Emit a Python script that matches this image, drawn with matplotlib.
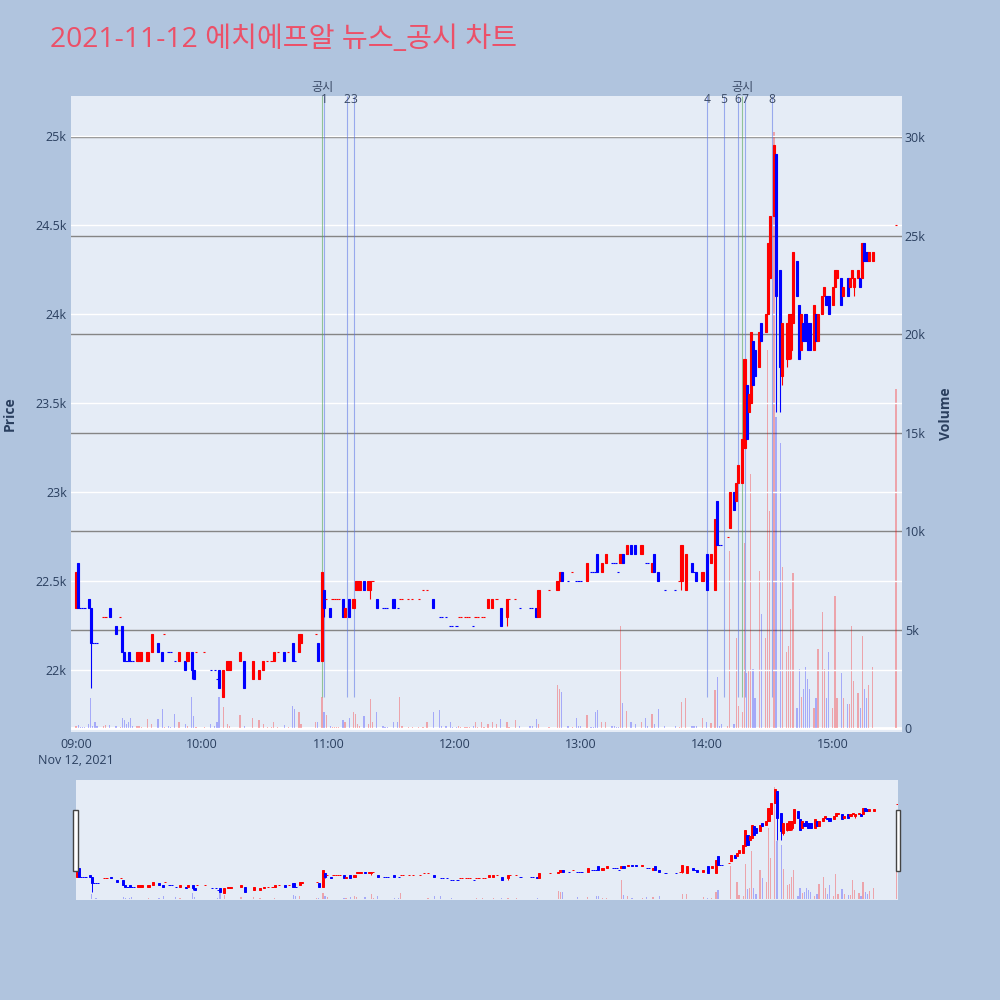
import matplotlib
matplotlib.use('Agg')
import matplotlib.pyplot as plt
from matplotlib.patches import Rectangle
from matplotlib.transforms import blended_transform_factory
import numpy as np

plt.rcParams['font.family'] = ['Open Sans', 'Noto Sans CJK KR', 'DejaVu Sans']

title = '2021-11-12 에치에프알 뉴스_공시 차트'

times = ['09:00','09:01','09:02','09:03','09:04','09:06','09:07','09:08','09:09','09:10',
         '09:13','09:14','09:16','09:19','09:21','09:22','09:23','09:24','09:25','09:26',
         '09:27','09:29','09:30','09:31','09:34','09:36','09:39','09:41','09:42','09:44',
         '09:45','09:47','09:49','09:52','09:53','09:55','09:56','09:57','10:01','10:04',
         '10:06','10:07','10:08','10:10','10:12','10:13','10:18','10:20','10:24','10:27',
         '10:29','10:31','10:33','10:34','10:36','10:39','10:41','10:43','10:44','10:46',
         '10:47','10:54','10:55','10:57','10:58','10:59','11:01','11:02','11:03','11:04',
         '11:05','11:07','11:08','11:10','11:12','11:13','11:14','11:15','11:17','11:19',
         '11:20','11:21','11:23','11:26','11:27','11:28','11:31','11:33','11:34','11:35',
         '11:38','11:40','11:43','11:45','11:47','11:50','11:53','11:54','11:56','11:58',
         '11:59','12:01','12:02','12:03','12:05','12:06','12:07','12:09','12:10','12:11',
         '12:13','12:14','12:16','12:18','12:20','12:22','12:25','12:26','12:29','12:31',
         '12:36','12:37','12:39','12:40','12:45','12:49','12:50','12:51','12:54','12:56',
         '12:58','12:59','13:00','13:03','13:05','13:06','13:07','13:08','13:10','13:12',
         '13:15','13:16','13:17','13:18','13:19','13:20','13:22','13:24','13:26','13:29',
         '13:31','13:32','13:34','13:35','13:37','13:40','13:45','13:47','13:48','13:50',
         '13:53','13:54','13:55','13:58','14:00','14:02','14:04','14:05','14:06','14:07',
         '14:10','14:11','14:13','14:14','14:15','14:17','14:18','14:19','14:20','14:21',
         '14:22','14:23','14:25','14:26','14:28','14:29','14:30','14:32','14:33','14:35',
         '14:36','14:38','14:39','14:40','14:41','14:43','14:44','14:45','14:46','14:47',
         '14:48','14:49','14:51','14:52','14:53','14:55','14:56','14:57','14:58','15:00',
         '15:01','15:02','15:04','15:05','15:07','15:08','15:09','15:10','15:12','15:13',
         '15:14','15:15','15:16','15:17','15:19','15:30']

opens = [22350,22600,22350,22350,22350,22400,22350,22150,22150,22150,
         22300,22300,22350,22250,22300,22250,22100,22050,22100,22050,
         22050,22050,22050,22050,22050,22100,22150,22100,22200,22100,
         22100,22050,22050,22050,22050,22100,22000,22100,22100,22000,
         22000,21950,22000,21850,22000,22000,22050,22050,21950,21950,
         22000,22050,22050,22050,22100,22100,22100,22150,22050,22100,
         22150,22200,22150,22050,22450,22400,22350,22400,22400,22400,
         22400,22400,22300,22400,22350,22450,22450,22450,22500,22450,
         22450,22500,22400,22350,22350,22350,22400,22350,22400,22400,
         22400,22400,22400,22450,22450,22400,22300,22300,22300,22250,
         22250,22250,22300,22300,22300,22300,22300,22250,22300,22300,
         22300,22300,22350,22350,22400,22350,22300,22400,22400,22350,
         22350,22350,22350,22300,22450,22450,22500,22550,22500,22550,
         22500,22500,22500,22500,22550,22550,22550,22650,22550,22600,
         22600,22600,22600,22550,22600,22650,22650,22700,22700,22650,
         22600,22600,22550,22650,22550,22450,22450,22500,22500,22450,
         22600,22550,22550,22500,22650,22600,22450,22950,22700,22700,
         22750,22800,23000,22950,23050,23050,23250,23600,23450,23500,
         23850,23800,23700,23950,23900,24000,24200,24550,24900,24250,
         23650,23750,23750,23800,23950,24300,24050,23800,23950,24000,
         23950,23950,23800,24000,23850,24000,24100,24100,24100,24050,
         24150,24200,24200,24100,24200,24150,24200,24150,24200,24200,
         24200,24400,24350,24300,24300,24500]

highs = [22550,22600,22350,22350,22350,22400,22350,22150,22150,22150,
         22300,22300,22350,22250,22300,22250,22100,22050,22100,22050,
         22050,22100,22100,22100,22100,22200,22150,22100,22200,22100,
         22100,22050,22100,22050,22100,22100,22000,22100,22100,22000,
         22000,21950,22000,22000,22050,22050,22100,22050,22050,22000,
         22050,22050,22050,22100,22100,22100,22100,22150,22050,22200,
         22200,22200,22150,22550,22450,22400,22350,22400,22400,22400,
         22400,22400,22350,22400,22400,22500,22500,22500,22500,22500,
         22500,22500,22400,22350,22350,22350,22400,22350,22400,22400,
         22400,22400,22400,22450,22450,22400,22300,22300,22300,22250,
         22250,22250,22300,22300,22300,22300,22300,22250,22300,22300,
         22300,22300,22400,22400,22400,22350,22400,22400,22400,22350,
         22350,22350,22350,22450,22450,22500,22550,22550,22500,22550,
         22500,22500,22500,22600,22550,22550,22550,22650,22600,22650,
         22600,22600,22600,22550,22650,22650,22700,22700,22700,22700,
         22600,22600,22600,22650,22550,22450,22450,22500,22700,22650,
         22600,22550,22550,22550,22650,22650,22850,22950,22700,22700,
         22750,23000,23000,23050,23150,23300,23750,23600,23550,23900,
         23850,23800,23900,23950,24000,24400,24550,24950,24900,24250,
         23950,23950,24000,24000,24350,24300,24050,24000,23950,24000,
         23950,23950,24050,24000,24000,24100,24150,24100,24100,24150,
         24250,24250,24200,24150,24200,24200,24250,24200,24250,24200,
         24400,24400,24350,24350,24350,24500]

lows = [22350,22350,22350,22350,22350,22350,21900,22150,22150,22150,
        22300,22300,22300,22200,22300,22100,22050,22050,22050,22050,
        22050,22050,22050,22050,22050,22100,22100,22050,22200,22100,
        22100,22050,22050,22000,22050,21950,21950,22100,22100,22000,
        22000,21950,21900,21850,22000,22000,22050,21900,21950,21950,
        22000,22050,22050,22050,22100,22050,22100,22050,22050,22100,
        22150,22200,22050,22050,22300,22400,22300,22400,22400,22400,
        22400,22300,22300,22300,22350,22450,22450,22450,22450,22450,
        22400,22500,22350,22350,22350,22350,22350,22350,22400,22400,
        22400,22400,22400,22450,22450,22350,22300,22300,22300,22250,
        22250,22250,22300,22300,22300,22300,22300,22250,22300,22300,
        22300,22300,22350,22350,22400,22250,22250,22400,22400,22350,
        22350,22350,22300,22300,22450,22450,22500,22500,22500,22550,
        22500,22500,22500,22500,22550,22550,22550,22550,22550,22600,
        22600,22600,22600,22550,22600,22600,22650,22650,22650,22650,
        22600,22600,22550,22550,22500,22450,22450,22500,22450,22450,
        22550,22550,22500,22500,22450,22600,22450,22700,22700,22700,
        22750,22800,22900,22950,23050,23050,23250,23300,23450,23500,
        23600,23650,23700,23850,23900,24000,24200,24550,23450,23450,
        23600,23700,23750,23750,23950,24100,23750,23800,23850,23850,
        23800,23800,23800,23850,23850,24000,24100,24050,24000,24050,
        24150,24200,24050,24100,24100,24150,24200,24100,24200,24150,
        24200,24300,24300,24300,24300,24500]

closes = [22550,22350,22350,22350,22350,22350,22150,22150,22150,22150,
          22300,22300,22300,22200,22300,22100,22050,22050,22050,22050,
          22050,22100,22100,22100,22100,22200,22100,22050,22200,22100,
          22100,22050,22100,22000,22100,22000,21950,22100,22100,22000,
          22000,21950,21900,22000,22050,22050,22100,21900,22050,22000,
          22050,22050,22050,22100,22100,22050,22100,22050,22050,22200,
          22200,22200,22050,22550,22350,22400,22300,22400,22400,22400,
          22400,22300,22350,22300,22400,22500,22500,22500,22450,22500,
          22500,22500,22350,22350,22350,22350,22350,22350,22400,22400,
          22400,22400,22400,22450,22450,22350,22300,22300,22300,22250,
          22250,22250,22300,22300,22300,22300,22300,22250,22300,22300,
          22300,22300,22400,22400,22400,22250,22400,22400,22400,22350,
          22350,22350,22300,22450,22450,22500,22550,22500,22500,22550,
          22500,22500,22500,22600,22550,22550,22550,22550,22600,22650,
          22600,22600,22600,22550,22650,22600,22700,22650,22650,22700,
          22600,22600,22600,22550,22500,22450,22450,22500,22700,22650,
          22550,22550,22500,22550,22450,22650,22850,22700,22700,22700,
          22750,23000,22900,23050,23150,23300,23750,23300,23550,23900,
          23600,23650,23900,23850,24000,24400,24550,24950,24100,23700,
          23950,23950,24000,24000,24350,24100,23750,24000,23850,23850,
          23800,23800,24050,23850,24000,24100,24150,24050,24000,24150,
          24250,24250,24050,24150,24100,24200,24250,24200,24250,24150,
          24400,24300,24300,24350,24350,24500]

volumes = [100,150,50,50,50,200,1500,100,300,100,
           100,150,150,100,50,500,400,200,300,500,
           100,100,100,50,450,200,450,970,50,100,
           50,700,300,200,100,1570,600,50,50,200,
           100,300,1600,1070,200,100,650,100,500,400,
           200,50,50,300,50,150,50,1100,950,800,
           200,300,300,1570,800,650,100,50,50,50,
           50,400,300,500,800,700,200,100,600,200,
           1470,300,800,100,50,50,300,300,1570,100,
           50,50,50,50,300,800,900,100,100,300,
           50,50,100,50,50,50,50,100,300,50,
           300,50,200,300,200,450,300,50,400,100,
           100,100,450,200,50,2200,2000,1850,100,50,
           500,100,100,650,50,50,800,900,300,300,
           100,100,50,50,5200,1250,850,300,200,300,
           500,100,700,200,950,100,100,50,1300,1500,
           100,100,100,500,300,250,1950,2600,100,200,
           100,9000,200,4550,1100,800,9400,2800,2900,12900,
           3000,1500,8000,5800,4550,19200,11000,30300,15800,14500,
           8200,3850,4150,6050,7850,1000,3000,1550,2000,3100,
           2500,2000,1000,1500,4000,5900,3000,1500,3850,1000,
           6700,1500,2800,1500,1200,1200,5200,2400,1800,1000,
           4650,2000,1500,2200,3100,17200]

event_times = ['10:58', '11:09', '11:12', '14:00', '14:08', '14:15', '14:18', '14:31']
event_labels = ['1', '2', '3', '4', '5', '6', '7', '8']
disclosure_times = ['10:57', '14:17']
disclosure_label = '공시'

price_ticks = [22000, 22500, 23000, 23500, 24000, 24500, 25000]
price_tick_labels = ['22k', '22.5k', '23k', '23.5k', '24k', '24.5k', '25k']
vol_ticks = [0, 5000, 10000, 15000, 20000, 25000, 30000]
vol_tick_labels = ['0', '5k', '10k', '15k', '20k', '25k', '30k']
x_tick_times = ['09:00', '10:00', '11:00', '12:00', '13:00', '14:00', '15:00']
x_tick_labels = ['09:00\nNov 12, 2021', '10:00', '11:00', '12:00', '13:00', '14:00', '15:00']


def to_min(t):
    hh, mm = t.split(':')
    return (int(hh) - 9) * 60 + int(mm)


x = np.array([to_min(t) for t in times], dtype=float)
o = np.array(opens, float)
h = np.array(highs, float)
l = np.array(lows, float)
c = np.array(closes, float)
v = np.array(volumes, float)

# plotly-like increasing/decreasing rule
inc = []
prev_c = None
prev_inc = True
for oi, ci in zip(o, c):
    if ci > oi:
        d = True
    elif ci < oi:
        d = False
    else:
        if prev_c is not None and ci != prev_c:
            d = ci > prev_c
        else:
            d = prev_inc
    inc.append(d)
    prev_c = ci
    prev_inc = d
inc = np.array(inc)

RED = '#FF0000'
BLUE = '#0000FF'
cols = np.where(inc, RED, BLUE)
vcols = [(1, 0, 0, 0.3) if d else (0, 0, 1, 0.28) for d in inc]

TXT = '#2a3f5f'
BG = '#E5ECF6'
P_LIM = (21652, 25225)
V_LIM = (-203, 32106)
FS = 9

fig = plt.figure(figsize=(10, 10), dpi=100, facecolor='#B0C4DE')

# ---------------- main chart ----------------
ax_v = fig.add_axes([0.071, 0.268, 0.831, 0.636])
ax_v.set_facecolor(BG)
ax_v.set_xlim(-2.4, 392.9)
ax_v.set_ylim(*V_LIM)
for vt in vol_ticks[1:]:
    ax_v.axhline(vt, color='#858585', lw=1.0, zorder=1)
ax_v.axhline(0, color='white', lw=2.0, zorder=1)
ax_v.bar(x, v, width=0.6, color=vcols, linewidth=0, zorder=2)
ax_v.set_xticks([to_min(t) for t in x_tick_times])
ax_v.set_xticklabels(x_tick_labels, linespacing=1.3)
ax_v.tick_params(axis='x', length=0, pad=4, labelsize=FS, labelcolor=TXT)
for s in ax_v.spines.values():
    s.set_visible(False)

ax_p = ax_v.twinx()
ax_p.set_ylim(*P_LIM)
ax_p.yaxis.tick_left()
ax_p.yaxis.set_label_position('left')
ax_p.set_yticks(price_ticks)
ax_p.set_yticklabels(price_tick_labels)
ax_p.tick_params(axis='y', length=0, pad=3, labelsize=FS, labelcolor=TXT)
ax_p.set_axisbelow(True)
ax_p.grid(axis='y', color='white', lw=1.0)
for s in ax_p.spines.values():
    s.set_visible(False)

# volume axis on the right (set after twinx)
ax_v.yaxis.tick_right()
ax_v.yaxis.set_label_position('right')
ax_v.set_yticks(vol_ticks)
ax_v.set_yticklabels(vol_tick_labels)
ax_v.tick_params(axis='y', which='both', left=False, labelleft=False,
                 right=False, labelright=True, length=0, pad=2,
                 labelsize=FS, labelcolor=TXT)


def draw_candles(ax, wick_lw, edge_lw, width):
    ax.vlines(x, l, h, colors=cols, lw=wick_lw, zorder=3)
    ax.bar(x, np.abs(c - o), width=width, bottom=np.minimum(o, c), color=cols,
           edgecolor=cols, linewidth=edge_lw, zorder=4)


draw_candles(ax_p, 0.8, 0.8, 1.0)

# event markers (beneath the candles)
low_day = l.min()
ev_x = [to_min(t) for t in event_times]
ds_x = [to_min(t) for t in disclosure_times]
ax_p.vlines(ev_x, low_day, P_LIM[1], colors=[(0.35, 0.45, 0.9, 0.55)], lw=0.8, zorder=2)
ax_p.vlines(ds_x, low_day, P_LIM[1], colors=[(0.35, 0.65, 0.35, 0.6)], lw=0.8, zorder=2)
trans = blended_transform_factory(ax_p.transData, ax_p.transAxes)
for ex, lab in zip(ev_x, event_labels):
    ax_p.text(ex, 0.995, lab, transform=trans, ha='center', va='center',
              fontsize=8.7, color='#3a4a66', clip_on=False, zorder=6)
for dx in ds_x:
    ax_p.text(dx, 1.013, disclosure_label, transform=trans, ha='center', va='center',
              fontsize=8.7, color='#3a4a66', clip_on=False, zorder=6)

# ---------------- range slider ----------------
ax_sv = fig.add_axes([0.076, 0.1, 0.822, 0.12])
ax_sv.set_facecolor(BG)
ax_sv.set_xlim(-0.5, 390.6)
ax_sv.set_ylim(*V_LIM)
ax_sv.bar(x, v, width=0.6, color=vcols, linewidth=0, zorder=2)
ax_sv.set_xticks([])
ax_sv.set_yticks([])
for s in ax_sv.spines.values():
    s.set_visible(False)
ax_sp = ax_sv.twinx()
ax_sp.set_ylim(*P_LIM)
ax_sp.set_yticks([])
for s in ax_sp.spines.values():
    s.set_visible(False)
draw_candles(ax_sp, 0.7, 0.7, 1.0)

for hx in (0.0733, 0.8963):
    fig.add_artist(Rectangle((hx, 0.129), 0.0042, 0.061, transform=fig.transFigure,
                             facecolor='white', edgecolor='#444444', lw=1.0))

# ---------------- texts ----------------
fig.text(0.05, 0.96, title, fontsize=20.3, color='#EC5068', ha='left', va='center')
fig.text(0.010, 0.586, 'Price', rotation=90, fontsize=10, fontweight='bold',
         color=TXT, ha='center', va='center')
fig.text(0.946, 0.586, 'Volume', rotation=90, fontsize=10, fontweight='bold',
         color=TXT, ha='center', va='center')

fig.savefig('out.png', dpi=100, facecolor=fig.get_facecolor())
